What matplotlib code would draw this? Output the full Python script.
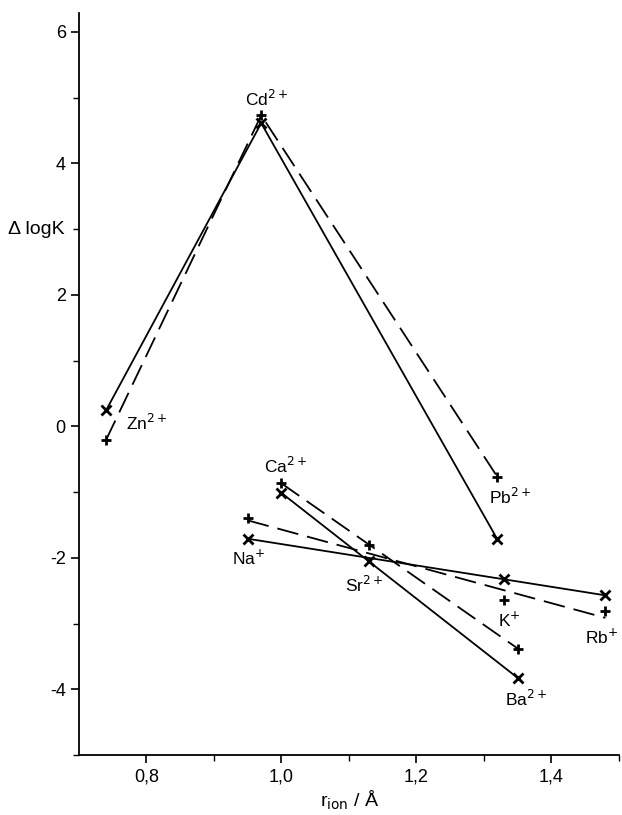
import numpy as np
import matplotlib.pyplot as plt
from matplotlib.ticker import FixedLocator

plt.rcParams['font.family'] = ['Liberation Sans', 'DejaVu Sans']

# ionic radii (Angstrom) and delta log K for the two ligands (x / + markers)
ions_v = ['Zn$^{2+}$', 'Cd$^{2+}$', 'Pb$^{2+}$']
r_v = [0.74, 0.97, 1.32]
dlogk_x_v = [0.24, 4.61, -1.72]
dlogk_p_v = [-0.21, 4.73, -0.77]

ions_ca = ['Ca$^{2+}$', 'Sr$^{2+}$', 'Ba$^{2+}$']
r_ca = [1.00, 1.13, 1.35]
dlogk_x_ca = [-1.02, -2.05, -3.83]
dlogk_p_ca = [-0.87, -1.80, -3.38]

ions_na = ['Na$^{+}$', 'K$^{+}$', 'Rb$^{+}$']
r_na = [0.95, 1.33, 1.48]
dlogk_x_na = [-1.71, -2.33, -2.57]
dlogk_p_na = [-1.39, -2.64, -2.81]

x_ticks = [0.8, 1.0, 1.2, 1.4]
x_ticklabels = ['0,8', '1,0', '1,2', '1,4']
y_ticks = [-4, -2, 0, 2, 4, 6]
y_ticklabels = ['-4', '-2', '0', '2', '4', '6']

dash = (0, (12, 5))
lw = 1.3
mk = dict(color='black', markersize=6.5, markeredgewidth=2.0, linestyle='none')


def fit_line(ax, r, y, ls):
    k, b = np.polyfit(r, y, 1)
    xs = np.array([min(r), max(r)])
    ax.plot(xs, k * xs + b, color='black', lw=lw, linestyle=ls)


fig = plt.figure(figsize=(6.22, 8.15), dpi=100)
ax = fig.add_axes([0.127, 0.0736, 0.868, 0.91])

# transition metals: points joined directly
ax.plot(r_v, dlogk_x_v, color='black', lw=lw, linestyle='-')
ax.plot(r_v, dlogk_p_v, color='black', lw=lw, linestyle=dash)

# alkaline earth and alkali: straight fitted lines
fit_line(ax, r_ca, dlogk_x_ca, '-')
fit_line(ax, r_ca, dlogk_p_ca, dash)
fit_line(ax, r_na, dlogk_x_na, '-')
fit_line(ax, r_na, dlogk_p_na, dash)

for r, yx, yp in [(r_v, dlogk_x_v, dlogk_p_v),
                  (r_ca, dlogk_x_ca, dlogk_p_ca),
                  (r_na, dlogk_x_na, dlogk_p_na)]:
    ax.plot(r, yx, marker='x', **mk)
    ax.plot(r, yp, marker='+', **mk)

# ion labels
labels = [
    ('Zn$^{2+}$', 0.769, 0.05, 'left'),
    ('Cd$^{2+}$', 0.978, 4.98, 'center'),
    ('Pb$^{2+}$', 1.339, -1.08, 'center'),
    ('Ca$^{2+}$', 1.007, -0.61, 'center'),
    ('Sr$^{2+}$', 1.123, -2.41, 'center'),
    ('Ba$^{2+}$', 1.362, -4.14, 'center'),
    ('Na$^{+}$', 0.951, -2.00, 'center'),
    ('K$^{+}$', 1.338, -2.94, 'center'),
    ('Rb$^{+}$', 1.4995, -3.20, 'right'),
]
for txt, x, y, ha in labels:
    ax.text(x, y, txt, fontsize=12.5, ha=ha, va='center')

ax.set_xlim(0.7, 1.5)
ax.set_ylim(-5, 6.28)
ax.xaxis.set_major_locator(FixedLocator(x_ticks))
ax.set_xticklabels(x_ticklabels)
ax.xaxis.set_minor_locator(FixedLocator([0.9, 1.1, 1.3, 1.5]))
ax.yaxis.set_major_locator(FixedLocator(y_ticks))
ax.set_yticklabels(y_ticklabels)
ax.yaxis.set_minor_locator(FixedLocator([-5, -3, -1, 1, 3, 5]))
ax.tick_params(which='major', direction='out', length=6, width=1.2, labelsize=13)
ax.tick_params(which='minor', direction='out', length=4, width=1.0)

for s in ['top', 'right']:
    ax.spines[s].set_visible(False)
for s in ['left', 'bottom']:
    ax.spines[s].set_linewidth(1.3)

fig.text(350 / 622, 1 - 800 / 815, 'r$_{\\mathrm{ion}}$ / Å', fontsize=14,
         ha='center', va='center')
fig.text(36 / 622, 1 - 230 / 815, 'Δ logK', fontsize=14, ha='center', va='center')

fig.savefig('out.png', dpi=100)
